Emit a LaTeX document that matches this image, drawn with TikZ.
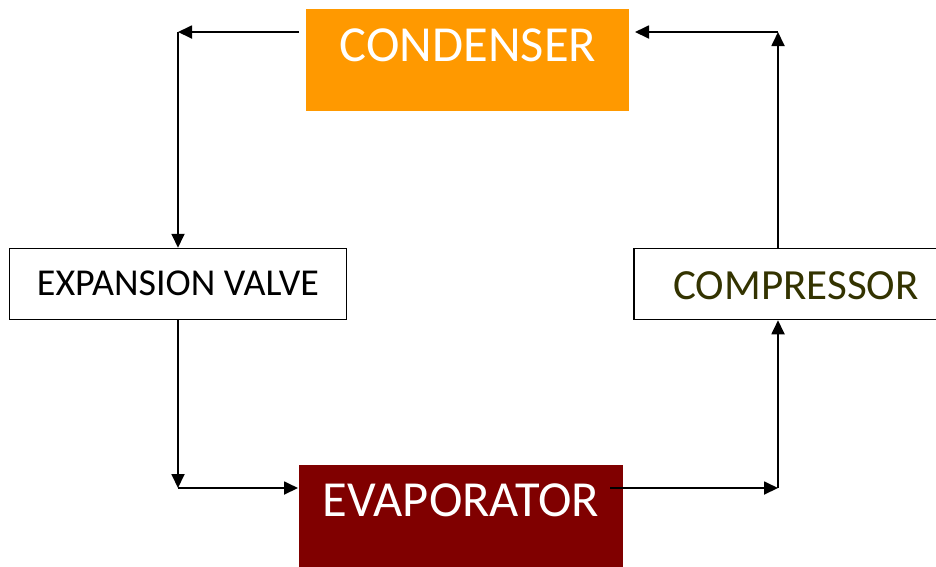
\documentclass[tikz,border=0pt]{standalone}
\usepackage{fontspec}
\setmainfont{Carlito}
\usetikzlibrary{arrows.meta}
\definecolor{condorange}{HTML}{FF9900}
\definecolor{evapred}{HTML}{800000}
\definecolor{compolive}{HTML}{333300}
\tikzset{
  boxbase/.style={rectangle, inner sep=0pt, anchor=center},
  flow/.style={line width=1.8pt, -{Triangle[length=14pt,width=13pt]}},
}
\begin{document}
\begin{tikzpicture}[x=1pt,y=-1pt]
\useasboundingbox (0,0) rectangle (936,566);
% boxes
\node[boxbase, fill=condorange, minimum width=323pt, minimum height=102pt] (cond) at (467.5,60) {};
\node[boxbase, text=white, font=\fontsize{50.5}{60}\selectfont] (condt) at (468,45) {CONDENSER};
\node[boxbase, draw=black, line width=1.5pt, fill=white, minimum width=337pt, minimum height=71pt] (exp) at (178,284) {};
\node[boxbase, font=\fontsize{38}{46}\selectfont] (expt) at (178,283) {EXPANSION VALVE};
\node[boxbase, draw=black, line width=1.5pt, fill=white, minimum width=310pt, minimum height=71pt] (comp) at (789,284) {};
\node[boxbase, text=compolive, font=\fontsize{43}{50}\selectfont] (compt) at (796,286) {COMPRESSOR};
\node[boxbase, fill=evapred, minimum width=324pt, minimum height=103pt] (evap) at (461,516) {};
\node[boxbase, text=white, font=\fontsize{50.5}{60}\selectfont] (evapt) at (461,500) {EVAPORATOR};
% connector corners
\coordinate (condL) at (299,32);
\coordinate (tl) at (178,32);
\coordinate (bl) at (178,488);
\coordinate (evapL) at (298,488);
\coordinate (evapR) at (610,488);
\coordinate (br) at (778,488);
\coordinate (tr) at (778,32);
\coordinate (condR) at (635,32);
% connectors
\draw[flow] (condL) -- (tl);
\draw[flow] (tl) -- (exp.north -| tl);
\draw[flow] (exp.south -| bl) -- (bl);
\draw[flow] (bl) -- (evapL);
\draw[flow] (evapR) -- (br);
\draw[flow] (br) -- (comp.south -| br);
\draw[flow] (comp.north -| tr) -- (tr);
\draw[flow] (tr) -- (condR);
\end{tikzpicture}
\end{document}
